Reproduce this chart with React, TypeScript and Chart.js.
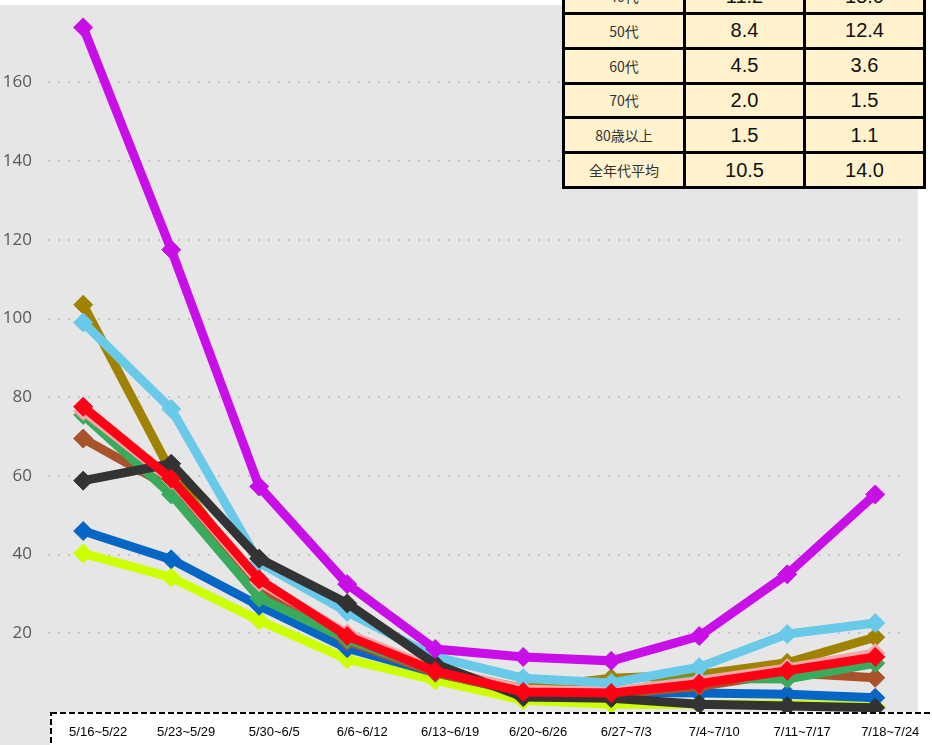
import React, { useEffect, useRef } from 'react';
import { Chart, registerables } from 'chart.js';

Chart.register(...registerables);

// ---- data ----
const weeks = ['5/16~5/22', '5/23~5/29', '5/30~6/5', '6/6~6/12', '6/13~6/19', '6/20~6/26', '6/27~7/3', '7/4~7/10', '7/11~7/17', '7/18~7/24'];
const under10 = [69.5, 57, 31, 18, 10, 5, 4.5, 6.5, 10, 8.7];
const teens = [174, 117.5, 57.3, 32.5, 16, 14, 13, 19.3, 35, 55.3];
const twenties = [99, 77, 38, 25.4, 14, 8.6, 7.4, 11.4, 19.8, 22.6];
const thirties = [103.5, 61, 31.5, 19, 10.5, 6, 8.6, 9.5, 12.5, 19];
const forties = [76.5, 59, 33, 20, 11, 5.8, 5.3, 8, 11.2, 15.0];
const fifties = [75.5, 55.3, 29, 18.5, 10.5, 5.5, 5, 8.5, 8.4, 12.4];
const sixties = [46, 38.8, 27, 16.2, 10, 5, 5, 4.8, 4.5, 3.6];
const seventies = [40.3, 34.2, 23.3, 13.4, 8.1, 3, 2, 2, 2.0, 1.5];
const over80 = [58.8, 63.1, 39, 27.6, 12.2, 3.8, 3.5, 2, 1.5, 1.1];
const average = [77.6, 59.3, 33.7, 19.3, 10.4, 5.1, 4.8, 7.2, 10.5, 14.0];
const yTicks = [20, 40, 60, 80, 100, 120, 140, 160];
const yMax = 178.3;

const tableAges = ['40代', '50代', '60代', '70代', '80歳以上', '全年代平均'];
const tableWeekA = [11.2, 8.4, 4.5, 2.0, 1.5, 10.5];
const tableWeekB = [15.0, 12.4, 3.6, 1.5, 1.1, 14.0];

const seriesList = [
  { label: '全年代平均', data: average, color: '#ff0015' },
  { label: '10代', data: teens, color: '#c90fe8' },
  { label: '80歳以上', data: over80, color: '#333333' },
  { label: '20代', data: twenties, color: '#69c9e9' },
  { label: '40代', data: forties, color: '#f4a8a8' },
  { label: '50代', data: fifties, color: '#3aaa5c' },
  { label: '10歳未満', data: under10, color: '#a9532a' },
  { label: '30代', data: thirties, color: '#9e8200' },
  { label: '60代', data: sixties, color: '#0566c6' },
  { label: '70代', data: seventies, color: '#ccff00' },
];

const bgPlugin = {
  id: 'bgPlugin',
  beforeDraw(chart: any) {
    const c = chart.ctx;
    c.save();
    c.fillStyle = '#ffffff';
    c.fillRect(0, 0, chart.width, chart.height);
    c.fillStyle = '#e6e6e6';
    c.fillRect(0, 5, 918, chart.height);
    c.fillStyle = '#ffffff';
    c.fillRect(50, 712, 900, 60);
    c.setLineDash([6, 3]);
    c.lineWidth = 2;
    c.strokeStyle = '#000000';
    c.strokeRect(51, 713, 900, 60);
    c.restore();
  },
};

function LineChart() {
  const ref = useRef<HTMLCanvasElement | null>(null);
  useEffect(() => {
    if (!ref.current) return;
    const chart = new Chart(ref.current, {
      type: 'line',
      data: {
        datasets: seriesList.map((s) => ({
          label: s.label,
          data: s.data.map((v, i) => ({ x: i, y: v })),
          borderColor: s.color,
          backgroundColor: s.color,
          pointBackgroundColor: s.color,
          pointBorderColor: s.color,
          borderWidth: 9,
          pointStyle: 'rectRot',
          pointRadius: 9.5,
          pointBorderWidth: 1,
          tension: 0,
          fill: false,
          clip: { left: 20, top: 20, right: 20, bottom: 0 },
        })),
      },
      options: {
        animation: false,
        responsive: false,
        maintainAspectRatio: false,
        events: [],
        layout: { padding: { left: 0, top: 0, right: 28.6, bottom: 0 } },
        plugins: { legend: { display: false }, tooltip: { enabled: false } },
        scales: {
          x: {
            type: 'linear',
            min: -0.4,
            max: 9.32,
            grid: { display: false },
            border: { display: false },
            afterBuildTicks: (s: any) => {
              s.ticks = weeks.map((_, i) => ({ value: i }));
            },
            afterFit: (s: any) => {
              s.height = 33;
              s.paddingLeft = 0;
              s.paddingRight = 0;
              s.paddingTop = 0;
              s.paddingBottom = 0;
            },
            ticks: {
              autoSkip: false,
              maxRotation: 0,
              minRotation: 0,
              padding: 5,
              labelOffset: 15,
              color: '#000000',
              font: { family: '"Liberation Sans", Arial, sans-serif', size: 13 },
              callback: (v: any) => weeks[Math.round(v)] ?? '',
            },
          },
          y: {
            min: 0,
            max: yMax,
            afterBuildTicks: (s: any) => {
              s.ticks = [0, ...yTicks].map((v) => ({ value: v }));
            },
            afterFit: (s: any) => {
              s.width = 48;
              s.paddingTop = 0;
              s.paddingBottom = 0;
              s.paddingLeft = 0;
              s.paddingRight = 0;
            },
            border: { display: false, dash: [2, 8] },
            grid: {
              drawTicks: false,
              lineWidth: 2,
              color: (ctx: any) => (yTicks.includes(ctx.tick?.value) ? '#c6c6c6' : 'rgba(0,0,0,0)'),
            },
            ticks: {
              padding: 16,
              color: '#595959',
              font: { family: '"Open Sans", sans-serif', size: 17 },
              callback: (v: any) => (yTicks.includes(v) ? String(v) : ''),
            },
          },
        },
      },
      plugins: [bgPlugin],
    } as any);
    return () => chart.destroy();
  }, []);
  return <canvas ref={ref} width={932} height={745} style={{ display: 'block', width: 932, height: 745 }} />;
}

function DataTable() {
  const cell: React.CSSProperties = {
    background: '#fff2cc',
    display: 'flex',
    alignItems: 'center',
    justifyContent: 'center',
    color: '#111',
  };
  return (
    <div
      style={{
        position: 'absolute',
        left: 562,
        top: -22.8,
        display: 'grid',
        gridTemplateColumns: '118px 117px 117px',
        gridAutoRows: '31.8px',
        gap: 3,
        padding: 3,
        background: '#000',
      }}
    >
      {tableAges.map((age, i) => (
        <React.Fragment key={age}>
          <div style={{ ...cell, fontFamily: '"Noto Sans CJK JP", sans-serif', fontSize: 14, color: '#333' }}>{age}</div>
          <div style={{ ...cell, fontFamily: '"Liberation Sans", Arial, sans-serif', fontSize: 20 }}>{tableWeekA[i].toFixed(1)}</div>
          <div style={{ ...cell, fontFamily: '"Liberation Sans", Arial, sans-serif', fontSize: 20 }}>{tableWeekB[i].toFixed(1)}</div>
        </React.Fragment>
      ))}
    </div>
  );
}

export default function App() {
  useEffect(() => {
    document.body.style.margin = '0';
  }, []);
  return (
    <div style={{ position: 'relative', width: 932, height: 745, overflow: 'hidden', background: '#fff' }}>
      <LineChart />
      <DataTable />
    </div>
  );
}
